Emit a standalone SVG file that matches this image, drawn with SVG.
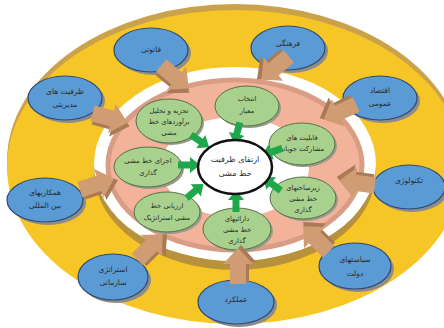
<svg xmlns="http://www.w3.org/2000/svg" width="444" height="328" viewBox="0 0 444 328">
<style>
text{font-family:"DejaVu Sans","Noto Sans",sans-serif;text-anchor:middle;fill:#2a2a2a}
.bt{font-size:7.5px}
.gt{font-size:6.8px}
.ct{font-size:8px}
.blue{fill:#5b9bd5;stroke:#2f4a6e;stroke-width:1.2}
.green{fill:#a9d18e;stroke:#56704a;stroke-width:1}
.sh{fill:#8c8c8c}
.gsh{fill:#9a9a8a}
</style>
<defs>
<g id="tan">
<path d="M-16,-5 L4,-5 L4,-12 L21,3 L4,18 L4,11 L-16,11 Z" fill="#a97a55"/>
<path d="M-18,-8 L2,-8 L2,-15 L18,0 L2,15 L2,8 L-18,8 Z" fill="#cf9c74"/>
</g>
<path id="grn" d="M-11,-3.5 L1,-3.5 L1,-8 L11,0 L1,8 L1,3.5 L-11,3.5 Z" fill="#1ea84b"/>
</defs>
<rect width="444" height="328" fill="#ffffff"/>
<g id="rings">
<ellipse cx="235" cy="161" rx="228" ry="157" fill="#cba24c"/>
<ellipse cx="235" cy="167" rx="228" ry="157" fill="#f6c526"/>
<ellipse cx="235" cy="171" rx="141" ry="99" fill="#b8913c"/>
<ellipse cx="235" cy="164" rx="141" ry="97" fill="#ffffff"/>
<ellipse cx="235" cy="165" rx="127" ry="85" fill="#f3b39b" stroke="#d99d86" stroke-width="5"/>
<ellipse cx="235" cy="167" rx="74" ry="50" fill="#ffffff"/>
</g>
<g id="n-qanuni"><ellipse class="sh" cx="154" cy="53" rx="37" ry="22"/><ellipse class="blue" cx="151" cy="50" rx="37" ry="22"/><text class="bt" x="151" y="52">قانونی</text></g>
<g id="n-zarfiat"><ellipse class="sh" cx="68" cy="101" rx="37" ry="22"/><ellipse class="blue" cx="65" cy="98" rx="37" ry="22"/><text class="bt" x="65" y="94">ظرفیت های</text><text class="bt" x="65" y="107">مدیریتی</text></g>
<g id="n-farhangi"><ellipse class="sh" cx="291" cy="51" rx="37" ry="22"/><ellipse class="blue" cx="288" cy="48" rx="37" ry="22"/><text class="bt" x="288" y="46">فرهنگی</text></g>
<g id="n-eqtesad"><ellipse class="sh" cx="383" cy="101" rx="37" ry="22"/><ellipse class="blue" cx="380" cy="98" rx="37" ry="22"/><text class="bt" x="380" y="93">اقتصاد</text><text class="bt" x="380" y="106">عمومی</text></g>
<g id="n-tech"><ellipse class="sh" cx="412" cy="190" rx="36" ry="22"/><ellipse class="blue" cx="409" cy="187" rx="36" ry="22"/><text class="bt" x="409" y="183">تکنولوژی</text></g>
<g id="n-siasat"><ellipse class="sh" cx="358" cy="269" rx="36" ry="23"/><ellipse class="blue" cx="355" cy="266" rx="36" ry="23"/><text class="bt" x="355" y="262">سیاستهای</text><text class="bt" x="355" y="276">دولت</text></g>
<g id="n-amalkard"><ellipse class="sh" cx="239" cy="305" rx="38" ry="22"/><ellipse class="blue" cx="236" cy="302" rx="38" ry="22"/><text class="bt" x="236" y="302">عملکرد</text></g>
<g id="n-strategy"><ellipse class="sh" cx="116" cy="280" rx="35" ry="23"/><ellipse class="blue" cx="113" cy="277" rx="35" ry="23"/><text class="bt" x="113" y="272">استراتژی</text><text class="bt" x="113" y="285">سازمانی</text></g>
<g id="n-hamkari"><ellipse class="sh" cx="48" cy="203" rx="38" ry="22"/><ellipse class="blue" cx="45" cy="200" rx="38" ry="22"/><text class="bt" x="45" y="195">همکاریهای</text><text class="bt" x="45" y="208">بین المللی</text></g>
<g id="n-entekhab"><ellipse class="gsh" cx="249" cy="108" rx="32" ry="20"/><ellipse class="green" cx="247" cy="106" rx="32" ry="20"/><text class="gt" x="247" y="101">انتخاب</text><text class="gt" x="247" y="113">معیار</text></g>
<g id="n-qabeliat"><ellipse class="gsh" cx="304" cy="146" rx="33" ry="21"/><ellipse class="green" cx="302" cy="144" rx="33" ry="21"/><text class="gt" x="302" y="140">قابلیت های</text><text class="gt" x="302" y="151">مشارکت جویانه</text></g>
<g id="n-zirsakht"><ellipse class="gsh" cx="305" cy="200" rx="33" ry="21"/><ellipse class="green" cx="303" cy="198" rx="33" ry="21"/><text class="gt" x="303" y="190">زیرساختهای</text><text class="gt" x="303" y="201">خط مشی</text><text class="gt" x="303" y="212">گذاری</text></g>
<g id="n-daraei"><ellipse class="gsh" cx="239" cy="231" rx="34" ry="21"/><ellipse class="green" cx="237" cy="229" rx="34" ry="21"/><text class="gt" x="237" y="221">دارائیهای</text><text class="gt" x="237" y="232">خط مشی</text><text class="gt" x="237" y="243">گذاری</text></g>
<g id="n-arzyabi"><ellipse class="gsh" cx="169" cy="214" rx="33" ry="20"/><ellipse class="green" cx="167" cy="212" rx="33" ry="20"/><text class="gt" x="167" y="208">ارزیابی خط</text><text class="gt" x="167" y="220">مشی استراتژیک</text></g>
<g id="n-ejra"><ellipse class="gsh" cx="150" cy="169" rx="34" ry="20"/><ellipse class="green" cx="148" cy="167" rx="34" ry="20"/><text class="gt" x="148" y="163">اجرای خط مشی</text><text class="gt" x="148" y="175">گذاری</text></g>
<g id="n-tajzie"><ellipse class="gsh" cx="171" cy="123" rx="33" ry="22"/><ellipse class="green" cx="169" cy="121" rx="33" ry="22"/><text class="gt" x="169" y="113">تجزیه و تحلیل</text><text class="gt" x="169" y="124">برآوردهای خط</text><text class="gt" x="169" y="135">مشی</text></g>
<g id="connectors">
<use href="#tan" transform="translate(175,77) rotate(40)"/>
<use href="#tan" transform="translate(110,118) rotate(15)"/>
<use href="#tan" transform="translate(275,68) rotate(140)"/>
<use href="#tan" transform="translate(340,112) rotate(155)"/>
<use href="#tan" transform="translate(357,183) rotate(188)"/>
<use href="#tan" transform="translate(316,239) rotate(225)"/>
<use href="#tan" transform="translate(238,266) rotate(270)"/>
<use href="#tan" transform="translate(150,247) rotate(315)"/>
<use href="#tan" transform="translate(97,184) rotate(342)"/>
<use href="#grn" transform="translate(200,141) rotate(34)"/>
<use href="#grn" transform="translate(237,133) rotate(105)"/>
<use href="#grn" transform="translate(272,152) rotate(160)"/>
<use href="#grn" transform="translate(272,184) rotate(217)"/>
<use href="#grn" transform="translate(236,201) rotate(270)"/>
<use href="#grn" transform="translate(195,191) rotate(320)"/>
<use href="#grn" transform="translate(189,165) rotate(0)"/>
</g>
<g id="n-center"><ellipse cx="235" cy="167" rx="37" ry="27" fill="#ffffff" stroke="#111111" stroke-width="2.5"/><text class="ct" x="235" y="162">ارتقای ظرفیت</text><text class="ct" x="235" y="176">خط مشی</text></g>
</svg>
